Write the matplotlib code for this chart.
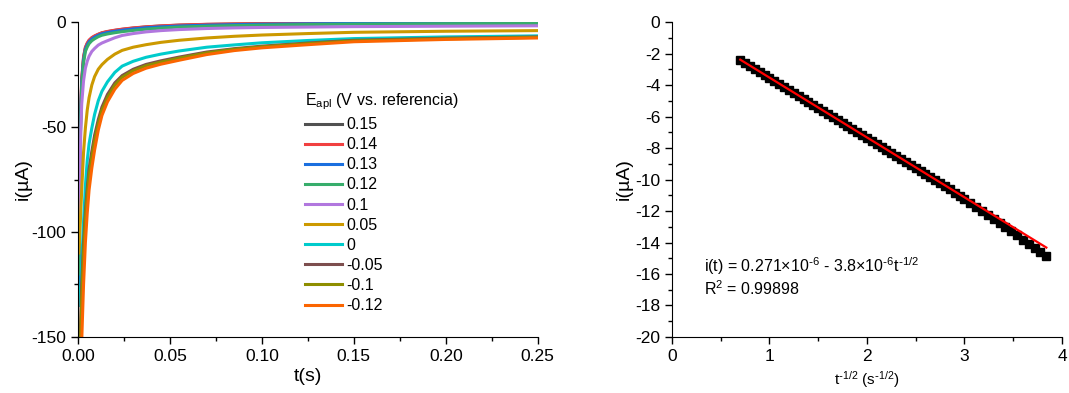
import numpy as np
import matplotlib
matplotlib.use("Agg")
import matplotlib.pyplot as plt
from matplotlib.ticker import MultipleLocator, FormatStrFormatter

plt.rcParams['font.family'] = ['Liberation Sans', 'DejaVu Sans']
plt.rcParams['mathtext.default'] = 'regular'
plt.rcParams['axes.unicode_minus'] = False

# left panel: chronoamperometry, i (uA) vs t (s)
t_s = [0.0005, 0.001, 0.0015, 0.002, 0.003, 0.004, 0.005, 0.006, 0.0075, 0.009,
       0.011, 0.013, 0.016, 0.02, 0.024, 0.03, 0.037, 0.045, 0.055, 0.07,
       0.085, 0.1, 0.125, 0.15, 0.2, 0.25]

potentials = ['0.15', '0.14', '0.13', '0.12', '0.1', '0.05', '0', '-0.05', '-0.1', '-0.12']

i_015 = [-130, -70, -42, -28, -17, -12.4, -10.3, -8.9, -7.6, -6.8, -5.9, -5.2, -4.6, -4.0, -3.5,
         -2.9, -2.35, -1.9, -1.5, -1.15, -0.95, -0.8, -0.65, -0.5, -0.35, -0.3]
i_014 = [-125, -66, -40, -27, -16.5, -12.0, -10.0, -8.6, -7.4, -6.6, -5.8, -5.1, -4.5, -3.9, -3.4,
         -2.8, -2.3, -1.85, -1.45, -1.1, -0.9, -0.75, -0.6, -0.45, -0.35, -0.3]
i_013 = [-128, -70, -43, -29, -18, -13, -10.9, -9.4, -8.1, -7.2, -6.3, -5.6, -5.0, -4.4, -3.9,
         -3.3, -2.7, -2.3, -1.9, -1.5, -1.25, -1.05, -0.85, -0.7, -0.55, -0.45]
i_012 = [-120, -72, -45, -31, -19.5, -14, -11.9, -10.3, -8.9, -8.0, -7.0, -6.3, -5.7, -5.1, -4.6,
         -4.0, -3.4, -2.9, -2.4, -2.0, -1.7, -1.5, -1.2, -1.0, -0.8, -0.7]
i_010 = [-100, -78, -52, -39, -28, -22, -18.7, -16.3, -14, -12.6, -11.0, -10, -8.9, -7.5, -6.4,
         -5.5, -4.7, -4.1, -3.6, -3.1, -2.8, -2.6, -2.4, -2.2, -2.0, -1.8]
i_005 = [-110, -100, -90, -80, -62, -50.5, -42, -36, -30, -26, -22.5, -20.3, -17.8, -15.3, -13.5,
         -12.0, -10.8, -9.7, -8.7, -7.6, -6.8, -6.2, -5.5, -4.9, -4.4, -4.1]
i_000 = [-135, -130, -125, -115, -95, -78, -66, -58, -50.5, -44, -37.5, -33, -28.5, -24, -21,
         -18.7, -16.8, -15.3, -13.8, -12.0, -10.9, -9.9, -8.8, -7.9, -7.1, -6.6]
i_m005 = [-170, -155, -140, -125, -105, -90, -79, -70, -61.6, -54, -46.5, -40.5, -34.5, -29, -25.5,
          -22.5, -20.2, -18.5, -16.7, -14.3, -12.7, -11.5, -10, -8.7, -7.7, -7.1]
i_m010 = [-175, -160, -147, -132, -110, -94, -82.5, -73, -64.5, -56.5, -48.5, -42, -36, -30, -26.3,
          -23.2, -20.8, -19.1, -17.2, -14.7, -13.0, -11.8, -10.3, -9.0, -8.0, -7.3]
i_m012 = [-190, -175, -162, -152, -125, -105, -91, -80, -69.5, -61, -51.5, -44.5, -38, -32, -27.8,
          -24.5, -22, -20.1, -18.2, -15.5, -13.6, -12.3, -10.8, -9.4, -8.3, -7.6]

curves = [i_015, i_014, i_013, i_012, i_010, i_005, i_000, i_m005, i_m010, i_m012]
colors = ['#515151', '#F14040', '#1A6FDF', '#37AD6B', '#B177DE',
          '#CC9900', '#00CBCC', '#7D4E4E', '#8E8E00', '#FB6501']

# right panel: Cottrell plot, i vs t^-1/2
x_inv = [0.70, 0.75, 0.80, 0.85, 0.90, 0.95, 1.00, 1.05, 1.10, 1.15, 1.20, 1.25,
         1.30, 1.35, 1.40, 1.45, 1.50, 1.55, 1.60, 1.65, 1.70, 1.75, 1.80, 1.85,
         1.90, 1.95, 2.00, 2.05, 2.10, 2.15, 2.20, 2.25, 2.30, 2.35, 2.40, 2.45,
         2.50, 2.55, 2.60, 2.65, 2.70, 2.75, 2.80, 2.85, 2.90, 2.95, 3.00,
         3.06, 3.12, 3.18, 3.24, 3.30, 3.36, 3.42, 3.48, 3.54, 3.60, 3.66, 3.72, 3.78, 3.84]
i_inv = [-2.43, -2.62, -2.81, -3.00, -3.19, -3.38, -3.57, -3.76, -3.95, -4.14, -4.33, -4.52,
         -4.71, -4.90, -5.09, -5.28, -5.47, -5.66, -5.85, -6.04, -6.23, -6.42, -6.61, -6.80,
         -6.99, -7.18, -7.37, -7.56, -7.75, -7.94, -8.13, -8.32, -8.51, -8.70, -8.89, -9.08,
         -9.27, -9.46, -9.65, -9.84, -10.03, -10.23, -10.43, -10.63, -10.83, -11.03, -11.24,
         -11.50, -11.75, -12.00, -12.25, -12.51, -12.77, -13.03, -13.28, -13.55, -13.82, -14.08,
         -14.35, -14.61, -14.87]

fit_intercept = 0.271
fit_slope = -3.8
fit_range = [0.70, 3.84]

fig = plt.figure(figsize=(10.69, 3.93), dpi=100)
ax1 = fig.add_axes([0.073, 0.1425, 0.430, 0.8015])
ax2 = fig.add_axes([0.6286, 0.1425, 0.3648, 0.8015])

for ax in (ax1, ax2):
    ax.spines['top'].set_visible(False)
    ax.spines['right'].set_visible(False)
    ax.tick_params(direction='out', which='major', length=5, width=1, labelsize=12.5)
    ax.tick_params(direction='out', which='minor', length=3, width=1)

for y, c, lab in zip(curves, colors, potentials):
    ax1.plot(t_s, y, color=c, lw=2.2, label=lab)

ax1.set_xlim(0, 0.25)
ax1.set_ylim(-150, 0)
ax1.xaxis.set_major_locator(MultipleLocator(0.05))
ax1.xaxis.set_minor_locator(MultipleLocator(0.025))
ax1.yaxis.set_major_locator(MultipleLocator(50))
ax1.yaxis.set_minor_locator(MultipleLocator(25))
ax1.xaxis.set_major_formatter(FormatStrFormatter('%.2f'))
ax1.set_xlabel('t(s)', fontsize=14, labelpad=3)
ax1.set_ylabel('i(µA)', fontsize=14, labelpad=0)

leg = ax1.legend(title='E$_{apl}$ (V vs. referencia)', loc='upper left',
                 bbox_to_anchor=(0.48, 0.80), frameon=False, fontsize=11.5,
                 title_fontsize=11.5, handlelength=2.3, handletextpad=0.3,
                 labelspacing=0.32, borderaxespad=0)
leg._legend_box.align = 'left'

ax2.plot(x_inv, i_inv, 's', color='black', ms=6)
fx = np.array(fit_range)
ax2.plot(fx, fit_intercept + fit_slope * fx, color='red', lw=1.6, zorder=5)

ax2.set_xlim(0, 4)
ax2.set_ylim(-20, 0)
ax2.xaxis.set_major_locator(MultipleLocator(1))
ax2.xaxis.set_minor_locator(MultipleLocator(0.5))
ax2.yaxis.set_major_locator(MultipleLocator(2))
ax2.yaxis.set_minor_locator(MultipleLocator(1))
ax2.set_xlabel(r'$t^{\text{-}1/2}$ ($s^{\text{-}1/2}$)', fontsize=11, labelpad=4)
ax2.set_ylabel('i(µA)', fontsize=14, labelpad=2)

ax2.text(0.33, -15.5, r'i(t) = 0.271×10$^{\text{-}6}$ - 3.8×10$^{\text{-}6}$t$^{\text{-}1/2}$',
         fontsize=11.5, va='center')
ax2.text(0.33, -16.9, 'R$^2$ = 0.99898', fontsize=11.5, va='center')

fig.savefig('out.png', dpi=100)
